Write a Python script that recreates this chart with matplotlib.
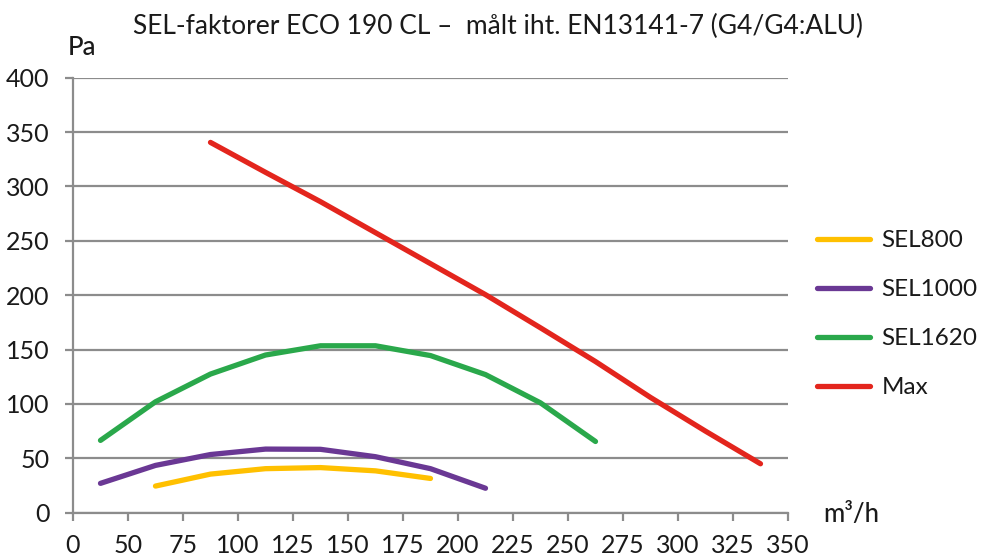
import matplotlib
matplotlib.use("Agg")
import matplotlib.pyplot as plt

plt.rcParams['font.family'] = ['Lato', 'DejaVu Sans']

# Data (air flow m3/h, pressure Pa)
tick_positions = [25, 50, 75, 100, 125, 150, 175, 200, 225, 250, 275, 300, 325, 350]
tick_labels = ['0', '50', '75', '100', '125', '150', '175', '200', '225', '250', '275', '300', '325', '350']

sel800_x = [62.5, 87.5, 112.5, 137.5, 162.5, 187.5]
sel800_y = [24.5, 35.5, 40.5, 41.5, 38.5, 31.5]

sel1000_x = [37.5, 62.5, 87.5, 112.5, 137.5, 162.5, 187.5, 212.5]
sel1000_y = [27, 43.5, 53.5, 58.5, 58.3, 51.5, 40.5, 22.5]

sel1620_x = [37.5, 62.5, 87.5, 112.5, 137.5, 162.5, 187.5, 212.5, 237.5, 262.5]
sel1620_y = [66.5, 102, 127.5, 145, 153.5, 153.5, 144.5, 127, 101, 65.5]

max_x = [87.5, 112.5, 137.5, 162.5, 187.5, 212.5, 237.5, 262.5, 287.5, 312.5, 337.5]
max_y = [340.5, 313, 286, 257.5, 229, 200.5, 170, 139, 106, 75, 45]

series = [
    ('SEL800', sel800_x, sel800_y, '#FFC000'),
    ('SEL1000', sel1000_x, sel1000_y, '#6A3894'),
    ('SEL1620', sel1620_x, sel1620_y, '#2AA84B'),
    ('Max', max_x, max_y, '#E3251D'),
]

fig = plt.figure(figsize=(9.85, 5.59), dpi=100)
ax = fig.add_axes([0.0741, 0.0828, 0.7259, 0.7782])

grid_color = '#8C8C8C'
text_color = '#1a1a1a'
for name, xs, ys, c in series:
    ax.plot(xs, ys, color=c, lw=3.8, solid_capstyle='round', solid_joinstyle='round', label=name, zorder=3)

ax.set_xlim(25, 350)
ax.set_ylim(0, 400)
ax.set_xticks(tick_positions)
ax.set_xticklabels(tick_labels)
ax.set_yticks(range(0, 401, 50))
ax.yaxis.grid(True, color=grid_color, lw=1.6)
ax.set_axisbelow(True)
for s in ['top', 'right']:
    ax.spines[s].set_visible(False)
for s in ['left', 'bottom']:
    ax.spines[s].set_color(grid_color)
    ax.spines[s].set_linewidth(1.6)
ax.tick_params(axis='both', colors=grid_color, width=1.6, length=6, labelsize=18, labelcolor=text_color)
ax.tick_params(axis='x', pad=9)
ax.tick_params(axis='y', pad=11)

fig.text(0.506, 0.953, 'SEL-faktorer ECO 190 CL –  målt iht. EN13141-7 (G4/G4:ALU)',
         ha='center', va='center', fontsize=19, color=text_color)
fig.text(0.083, 0.915, 'Pa', ha='center', va='center', fontsize=18.5, color=text_color, fontweight='medium')
fig.text(0.864, 0.080, 'm³/h', ha='center', va='center', fontsize=18.5, color=text_color, fontweight='medium')

leg = ax.legend(loc='center left', bbox_to_anchor=(1.01, 0.456), frameon=False, fontsize=17.5,
                handlelength=2.2, handletextpad=0.45, labelspacing=1.15)
for t in leg.get_texts():
    t.set_color(text_color)

fig.savefig('out.png', dpi=100)
